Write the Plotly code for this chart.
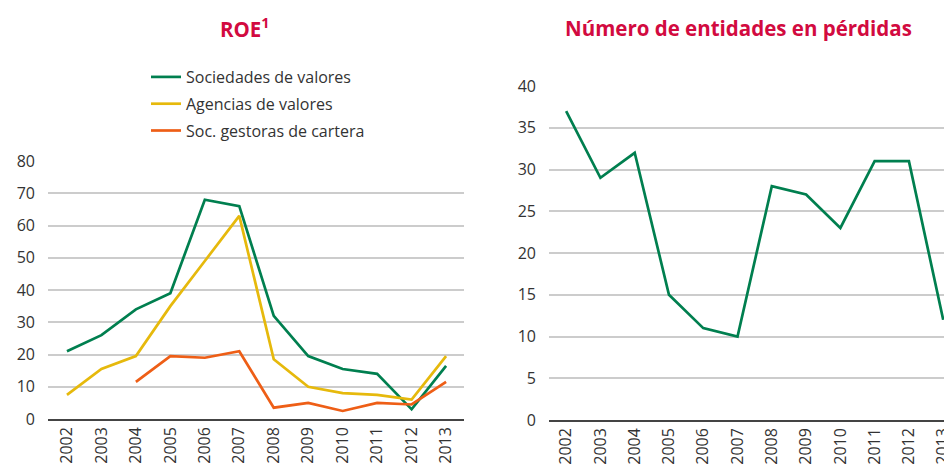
import plotly.graph_objects as go

years = [str(y) for y in range(2002, 2014)]
sociedades = [21, 26, 34, 39, 68, 66, 32, 19.5, 15.5, 14, 3, 16.5]
agencias = [7.5, 15.5, 19.5, 35, 49, 63, 18.5, 10, 8, 7.5, 6, 19.5]
gestoras = [None, None, 11.5, 19.5, 19, 21, 3.5, 5, 2.5, 5, 4.5, 11.5]
entidades_perdidas = [37, 29, 32, 15, 11, 10, 28, 27, 23, 31, 31, 12]

GREEN = "#007f4f"
YELLOW = "#e6b90c"
ORANGE = "#ee5e16"
TITLE = "#d20a40"
FONT = "Open Sans"

fig = go.Figure()
fig.add_trace(go.Scatter(x=years, y=sociedades, name="Sociedades de valores", mode="lines",
                         legendgroup="a", line=dict(color=GREEN, width=2.7), xaxis="x", yaxis="y"))
fig.add_trace(go.Scatter(x=years, y=agencias, name="Agencias de valores", mode="lines",
                         legendgroup="b", line=dict(color=YELLOW, width=2.7), xaxis="x", yaxis="y"))
fig.add_trace(go.Scatter(x=years, y=gestoras, name="Soc. gestoras de cartera", mode="lines",
                         legendgroup="c", line=dict(color=ORANGE, width=2.7), xaxis="x", yaxis="y"))
fig.add_trace(go.Scatter(x=years, y=entidades_perdidas, name="Entidades en pérdidas", mode="lines",
                         line=dict(color=GREEN, width=2.7), xaxis="x2", yaxis="y2", showlegend=False))

H = 471.0
W = 952.0
OFF = 8.0  # page body margin offset


def fx(px):
    return (px - OFF) / W


def fy(py):
    return 1 - (py - OFF) / H


fig.update_layout(
    width=952, height=471,
    margin=dict(l=0, r=0, t=0, b=0, autoexpand=False),
    paper_bgcolor="white", plot_bgcolor="white",
    font=dict(family=FONT, color="#333333"),
    showlegend=True,
    legend=dict(x=fx(146), y=fy(60), xanchor="left", yanchor="top",
                font=dict(family=FONT, size=16, color="#333333"),
                bgcolor="rgba(0,0,0,0)", tracegroupgap=3),
    xaxis=dict(domain=[fx(48), fx(464)], anchor="y", type="category", automargin=False,
               range=[-0.55, 11.52], tickangle=-90, showgrid=False,
               showline=True, linecolor="#444444", linewidth=1.5,
               ticks="", tickfont=dict(family=FONT, size=16, color="#333333")),
    yaxis=dict(domain=[fy(419), fy(161)], anchor="x", automargin=False,
               range=[0, 80], dtick=10, showgrid=True, gridcolor="#cccccc", gridwidth=1.5,
               zeroline=False, showline=False, ticks="", ticklabelstandoff=12,
               tickfont=dict(family=FONT, size=16, color="#333333")),
    xaxis2=dict(domain=[fx(549), 1.0], anchor="y2", type="category", automargin=False,
                range=[-0.5, 11.49], tickangle=-90, showgrid=False,
                showline=True, linecolor="#444444", linewidth=1.5,
                ticks="", tickfont=dict(family=FONT, size=16, color="#333333")),
    yaxis2=dict(domain=[fy(420), fy(86)], anchor="x2", automargin=False,
                range=[0, 40], dtick=5, showgrid=True, gridcolor="#cccccc", gridwidth=1.5,
                zeroline=False, showline=False, ticks="", ticklabelstandoff=12,
                tickfont=dict(family=FONT, size=16, color="#333333")),
    annotations=[
        dict(text="<b>ROE<sup>1</sup></b>", x=fx(245), y=fy(28), xref="paper", yref="paper",
             xanchor="center", yanchor="middle", showarrow=False,
             font=dict(family=FONT, size=20.5, color=TITLE)),
        dict(text="<b>Número de entidades en pérdidas</b>", x=fx(738), y=fy(28),
             xref="paper", yref="paper", xanchor="center", yanchor="middle", showarrow=False,
             font=dict(family=FONT, size=20.5, color=TITLE)),
    ],
)

fig.write_html("out.html")
